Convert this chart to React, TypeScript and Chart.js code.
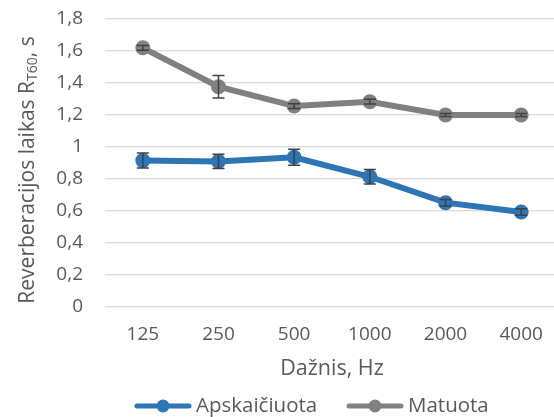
import React, { useEffect, useRef } from "react";
import { Chart, registerables } from "chart.js";

Chart.register(...registerables);

const categories = ["125", "250", "500", "1000", "2000", "4000"];
const apskaiciuota = [0.915, 0.91, 0.936, 0.814, 0.652, 0.594];
const apskaiciuotaErr = [0.047, 0.045, 0.05, 0.045, 0.02, 0.02];
const matuota = [1.62, 1.377, 1.256, 1.283, 1.2, 1.2];
const matuotaErr = [0.015, 0.07, 0.015, 0.015, 0.01, 0.01];
const yTicks = [0, 0.2, 0.4, 0.6, 0.8, 1, 1.2, 1.4, 1.6, 1.8];

const BLUE = "#2E75B6";
const GRAY = "#808083";
const TEXT = "#595959";
const FONT = "'Open Sans', sans-serif";

const AREA = { left: 105, right: 559, top: 19, bottom: 307 };

const fixLayoutPlugin = {
  id: "fixLayout",
  afterLayout(chart: any) {
    const ca = chart.chartArea;
    ca.left = AREA.left;
    ca.right = AREA.right;
    ca.top = AREA.top;
    ca.bottom = AREA.bottom;
    ca.width = AREA.right - AREA.left;
    ca.height = AREA.bottom - AREA.top;
    const x = chart.scales.x;
    x.left = AREA.left;
    x.right = AREA.right;
    x.width = AREA.right - AREA.left;
    x.top = AREA.bottom;
    x.bottom = 417;
    x.height = 417 - AREA.bottom;
    x.configure();
    const y = chart.scales.y;
    y.left = 0;
    y.right = AREA.left;
    y.width = AREA.left;
    y.top = AREA.top;
    y.bottom = AREA.bottom;
    y.height = AREA.bottom - AREA.top;
    y.configure();
  },
};

const errorBarPlugin = {
  id: "errorBars",
  afterDatasetsDraw(chart: any) {
    const { ctx, scales } = chart;
    const errs = [apskaiciuotaErr, matuotaErr];
    chart.data.datasets.forEach((ds: any, di: number) => {
      const err = errs[di];
      ds.data.forEach((v: number, i: number) => {
        const x = scales.x.getPixelForValue(i);
        const yHi = scales.y.getPixelForValue(v + err[i]);
        const yLo = scales.y.getPixelForValue(v - err[i]);
        ctx.save();
        ctx.strokeStyle = "#404040";
        ctx.lineWidth = 1.5;
        ctx.beginPath();
        ctx.moveTo(x, yHi);
        ctx.lineTo(x, yLo);
        ctx.moveTo(x - 6, yHi);
        ctx.lineTo(x + 6, yHi);
        ctx.moveTo(x - 6, yLo);
        ctx.lineTo(x + 6, yLo);
        ctx.stroke();
        ctx.restore();
      });
    });
  },
};

const textPlugin = {
  id: "customText",
  afterDraw(chart: any) {
    const { ctx } = chart;
    ctx.save();
    ctx.fillStyle = TEXT;
    // X title
    ctx.font = `21.5px ${FONT}`;
    ctx.textAlign = "center";
    ctx.textBaseline = "middle";
    ctx.fillText("Dažnis, Hz", 332, 369);

    // Y title with subscript
    const main = "Reverberacijos laikas R";
    const sub = "T60";
    const tail = ", s";
    ctx.font = `21px ${FONT}`;
    const wMain = ctx.measureText(main).width;
    const wTail = ctx.measureText(tail).width;
    ctx.font = `14px ${FONT}`;
    const wSub = ctx.measureText(sub).width;
    const total = wMain + wSub + wTail;
    ctx.translate(28, 170);
    ctx.rotate(-Math.PI / 2);
    ctx.textAlign = "left";
    ctx.textBaseline = "middle";
    let x = -total / 2;
    ctx.font = `21px ${FONT}`;
    ctx.fillText(main, x, 0);
    x += wMain;
    ctx.font = `14px ${FONT}`;
    ctx.fillText(sub, x, 5);
    x += wSub;
    ctx.font = `21px ${FONT}`;
    ctx.fillText(tail, x, 0);
    ctx.restore();

    // Legend
    ctx.save();
    const items = [
      { label: "Apskaičiuota", color: BLUE, x0: 135 },
      { label: "Matuota", color: GRAY, x0: 347 },
    ];
    const ly = 406;
    items.forEach((it) => {
      ctx.strokeStyle = it.color;
      ctx.lineWidth = 5;
      ctx.lineCap = "round";
      ctx.beginPath();
      ctx.moveTo(it.x0 + 2, ly);
      ctx.lineTo(it.x0 + 54, ly);
      ctx.stroke();
      ctx.fillStyle = it.color;
      ctx.beginPath();
      ctx.arc(it.x0 + 28, ly, 6.5, 0, Math.PI * 2);
      ctx.fill();
      ctx.fillStyle = TEXT;
      ctx.font = `20.5px ${FONT}`;
      ctx.textAlign = "left";
      ctx.textBaseline = "middle";
      ctx.fillText(it.label, it.x0 + 61, ly);
    });
    ctx.restore();
  },
};

export default function App() {
  const ref = useRef<HTMLCanvasElement>(null);
  useEffect(() => {
    document.body.style.margin = "0";
    const chart = new Chart(ref.current as HTMLCanvasElement, {
      type: "line",
      data: {
        labels: categories,
        datasets: [
          {
            label: "Apskaičiuota",
            data: apskaiciuota,
            borderColor: BLUE,
            backgroundColor: BLUE,
            borderWidth: 6,
            pointRadius: 7.5,
            pointBorderWidth: 0,
            pointBackgroundColor: BLUE,
            tension: 0,
            clip: false,
          },
          {
            label: "Matuota",
            data: matuota,
            borderColor: GRAY,
            backgroundColor: GRAY,
            borderWidth: 6,
            pointRadius: 7.5,
            pointBorderWidth: 0,
            pointBackgroundColor: GRAY,
            tension: 0,
            clip: false,
          },
        ],
      },
      options: {
        responsive: false,
        animation: false,
        plugins: {
          legend: { display: false },
          tooltip: { enabled: false },
        },
        scales: {
          x: {
            offset: true,
            grid: { display: false },
            border: { display: false },
            ticks: {
              color: TEXT,
              font: { family: FONT, size: 19 },
              padding: 8,
              maxRotation: 0,
              autoSkip: false,
            },
          },
          y: {
            min: 0,
            max: 1.8,
            afterBuildTicks(scale: any) {
              scale.ticks = yTicks.map((v) => ({ value: v }));
            },
            grid: { color: "#D9D9D9", lineWidth: 1.2, drawTicks: false },
            border: { display: false },
            ticks: {
              color: TEXT,
              font: { family: FONT, size: 19 },
              padding: 22,
              callback: (v: any) => String(Math.round(Number(v) * 10) / 10).replace(".", ","),
            },
          },
        },
      },
      plugins: [fixLayoutPlugin, errorBarPlugin, textPlugin],
    });
    return () => chart.destroy();
  }, []);
  return <canvas ref={ref} width={554} height={417} style={{ display: "block" }} />;
}
